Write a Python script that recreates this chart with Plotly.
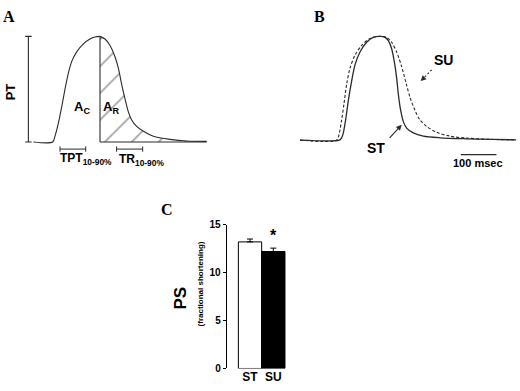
import plotly.graph_objects as go

# ---------------- data ----------------
# Panel A: schematic twitch (time in ms, force normalised to peak)
a_rise_t = [-54, 0, 6.5, 15.9, 25.2, 34.5, 43.9, 53.2, 67.2, 85.9, 104.5, 118.5, 132.5]
a_rise_f = [0, 0, 0.055, 0.178, 0.331, 0.5, 0.653, 0.761, 0.853, 0.929, 0.975, 0.994, 1]
a_decay_t = [132.5, 146.5, 160.5, 174.5, 183.9, 193.2, 202.5, 211.9, 221.2, 235.2, 253.9, 281.9, 328.5, 375.2, 431.2]
a_decay_f = [1, 0.975, 0.914, 0.807, 0.699, 0.546, 0.408, 0.285, 0.209, 0.147, 0.101, 0.055, 0.025, 0.009, 0.006]
a_peak_t = 132.5
a_base_end_t = 431.2
pt_bar_t = -68
tpt_bracket = [20.5, 92.5]
tr_bracket = [179, 252]

# Panel B: ST (solid) and SU (dashed) twitch traces
st_t = [-110, 0, 6.5, 11.2, 17.7, 25.2, 34.5, 43.9, 57.9, 76.5, 95.2, 113.9, 127.9, 137.2, 146.5,
        154, 160.5, 165.2, 171.7, 179.2, 188.5, 207.2, 235.2, 281.9, 356.5, 431.2, 495]
st_f = [0, 0, 0.022, 0.069, 0.194, 0.381, 0.569, 0.725, 0.85, 0.944, 0.991, 1, 0.991, 0.959, 0.881,
        0.756, 0.6, 0.444, 0.288, 0.178, 0.116, 0.069, 0.0375, 0.022, 0.0125, 0.006, 0.002]
su_t = [-110, -7.5, 0, 6.5, 13.1, 20.5, 29.9, 43.9, 62.5, 85.9, 113.9, 132.5, 146.5, 160.5, 174.5,
        186.7, 197.9, 211.9, 225.9, 244.5, 272.5, 309.9, 356.5, 431.2, 495]
su_f = [0, 0, 0.069, 0.194, 0.35, 0.5375, 0.694, 0.819, 0.9125, 0.981, 1, 0.991, 0.944, 0.85, 0.709,
        0.553, 0.4125, 0.2875, 0.194, 0.131, 0.075, 0.0375, 0.019, 0.006, 0.002]
scale_bar_t = [340, 440]
scale_bar_label = "100 msec"

# Panel C: peak shortening
groups = ["ST", "SU"]
ps_values = [13.2, 12.2]
ps_err = [0.3, 0.35]

LINE = "#2a2a2a"
SANS = "Liberation Sans, Arial, sans-serif"
SERIF = "Liberation Serif, Times New Roman, serif"

fig = go.Figure()

# ---- Panel A ----
fig.add_trace(go.Scatter(x=a_decay_t, y=a_decay_f, mode="lines", fill="tozeroy",
                         line=dict(color=LINE, width=1.1, shape="spline", smoothing=0.8),
                         fillcolor="rgba(0,0,0,0)",
                         fillpattern=dict(shape="/", fgcolor="#111", bgcolor="white", size=19, solidity=0.07),
                         xaxis="x", yaxis="y", hoverinfo="skip"))
fig.add_trace(go.Scatter(x=a_rise_t, y=a_rise_f, mode="lines",
                         line=dict(color=LINE, width=1.1, shape="spline", smoothing=0.8),
                         xaxis="x", yaxis="y", hoverinfo="skip"))
# vertical peak line and baseline
fig.add_trace(go.Scatter(x=[a_peak_t, a_peak_t, None, a_peak_t, a_base_end_t], y=[0, 1, None, 0, 0],
                         mode="lines", line=dict(color=LINE, width=1.1), xaxis="x", yaxis="y",
                         hoverinfo="skip"))
# PT bar with end ticks
tk = 9
fig.add_trace(go.Scatter(x=[pt_bar_t, pt_bar_t, None, pt_bar_t - tk, pt_bar_t + tk, None, pt_bar_t - tk, pt_bar_t + tk],
                         y=[0, 1, None, 0, 0, None, 1, 1], mode="lines",
                         line=dict(color=LINE, width=1.1), xaxis="x", yaxis="y", hoverinfo="skip"))
# brackets
for b in (tpt_bracket, tr_bracket):
    fig.add_trace(go.Scatter(x=[b[0], b[1], None, b[0], b[0], None, b[1], b[1]],
                             y=[-0.067, -0.067, None, -0.092, -0.042, None, -0.092, -0.042],
                             mode="lines", line=dict(color=LINE, width=1), xaxis="x", yaxis="y",
                             hoverinfo="skip"))

# ---- Panel B ----
fig.add_trace(go.Scatter(x=su_t, y=su_f, mode="lines",
                         line=dict(color=LINE, width=1.1, dash="3px,2px", shape="spline", smoothing=0.8),
                         xaxis="x2", yaxis="y2", hoverinfo="skip"))
fig.add_trace(go.Scatter(x=st_t, y=st_f, mode="lines",
                         line=dict(color=LINE, width=1.3, shape="spline", smoothing=0.8),
                         xaxis="x2", yaxis="y2", hoverinfo="skip"))
fig.add_trace(go.Scatter(x=scale_bar_t, y=[-0.14, -0.14], mode="lines",
                         line=dict(color=LINE, width=1.1), xaxis="x2", yaxis="y2", hoverinfo="skip"))
# dashed SU arrow shaft
fig.add_trace(go.Scatter(x=[258.7, 232], y=[0.678, 0.583], mode="lines",
                         line=dict(color=LINE, width=1.1, dash="2px,2px"), xaxis="x2", yaxis="y2",
                         hoverinfo="skip"))

# ---- Panel C ----
fig.add_trace(go.Bar(x=groups, y=ps_values, width=1,
                     marker=dict(color=["white", "black"], line=dict(color="black", width=1)),
                     error_y=dict(type="data", array=ps_err, arrayminus=[0, 0], symmetric=False,
                                  color="black", thickness=1, width=3),
                     xaxis="x3", yaxis="y3", hoverinfo="skip"))

ann = []
def txt(x, y, text, size, xref, yref, family=SANS, angle=0):
    ann.append(dict(x=x, y=y, xref=xref, yref=yref, text=text, showarrow=False,
                    font=dict(family=family, size=size, color="black"), textangle=angle,
                    xanchor="center", yanchor="middle"))

# panel letters
txt(9 / 520, 1 - 12 / 391, "<b>A</b>", 16, "paper", "paper", SERIF)
txt(319 / 520, 1 - 12 / 391, "<b>B</b>", 16, "paper", "paper", SERIF)
txt(167 / 520, 1 - 210 / 391, "<b>C</b>", 16, "paper", "paper", SERIF)

# panel A labels
txt(-119.5, 0.47, "<b>PT</b>", 13, "x", "y", angle=-90)
txt(82, 0.33, "<b>A<sub>C</sub></b>", 13, "x", "y")
txt(163, 0.33, "<b>A<sub>R</sub></b>", 13, "x", "y")
txt(92, -0.16, "<b>TPT<sub>10-90%</sub></b>", 12, "x", "y")
txt(250, -0.17, "<b>TR<sub>10-90%</sub></b>", 12, "x", "y")

# panel B labels
txt(293, 0.77, "<b>SU</b>", 14, "x2", "y2")
txt(104, -0.075, "<b>ST</b>", 14, "x2", "y2")
txt(389, -0.225, "<b>" + scale_bar_label + "</b>", 11, "x2", "y2")
ann.append(dict(x=174.6, y=0.147, ax=137, ay=0.006, xref="x2", yref="y2", axref="x2", ayref="y2",
                text="", showarrow=True, arrowhead=2, arrowsize=1, arrowwidth=1.1, arrowcolor=LINE))
ann.append(dict(x=227.9, y=0.569, ax=236, ay=0.597, xref="x2", yref="y2", axref="x2", ayref="y2",
                text="", showarrow=True, arrowhead=2, arrowsize=1, arrowwidth=1.1, arrowcolor=LINE))

# panel C labels
txt(181 / 520, 1 - 302 / 391, "<b>PS</b>", 17, "paper", "paper", angle=-90)
txt(200 / 520, 1 - 287.5 / 391, "<b>(fractional shortening)</b>", 8, "paper", "paper", angle=-90)
txt(1, 13.9, "<b>*</b>", 16, "x3", "y3")

hidden = dict(visible=False, fixedrange=True)
fig.update_layout(
    width=520, height=391, margin=dict(l=0, r=0, t=0, b=0),
    paper_bgcolor="white", plot_bgcolor="rgba(0,0,0,0)", showlegend=False,
    xaxis=dict(domain=[0, 0.5], range=[-147.5, 580.5], anchor="y", **hidden),
    yaxis=dict(domain=[1 - 195 / 391, 1], range=[-0.497, 1.297], anchor="x", **hidden),
    xaxis2=dict(domain=[280 / 520, 1], range=[-166.1, 505.9], anchor="y2", **hidden),
    yaxis2=dict(domain=[1 - 195 / 391, 1], range=[-0.525, 1.303], anchor="x2", **hidden),
    xaxis3=dict(domain=[226.7 / 520, 295 / 520], range=[-1, 1.93], anchor="y3",
                showline=False, showgrid=False, zeroline=False, ticks="",
                tickfont=dict(family=SANS, size=12, color="black", weight="bold")),
    yaxis3=dict(domain=[1 - 374 / 391, 1 - 226 / 391], range=[0, 15], anchor="x3",
                showline=True, linecolor="black", linewidth=1,
                showgrid=False, zeroline=False, ticks="outside", ticklen=3, tickcolor="black",
                tickvals=[0, 5, 10, 15],
                tickfont=dict(family=SANS, size=10, color="black", weight="bold")),
    annotations=ann, bargap=0,
)

fig.write_html("out.html", config={"displayModeBar": False, "staticPlot": True},
               post_script="document.body.style.margin='0px';document.body.style.overflow='hidden';")
